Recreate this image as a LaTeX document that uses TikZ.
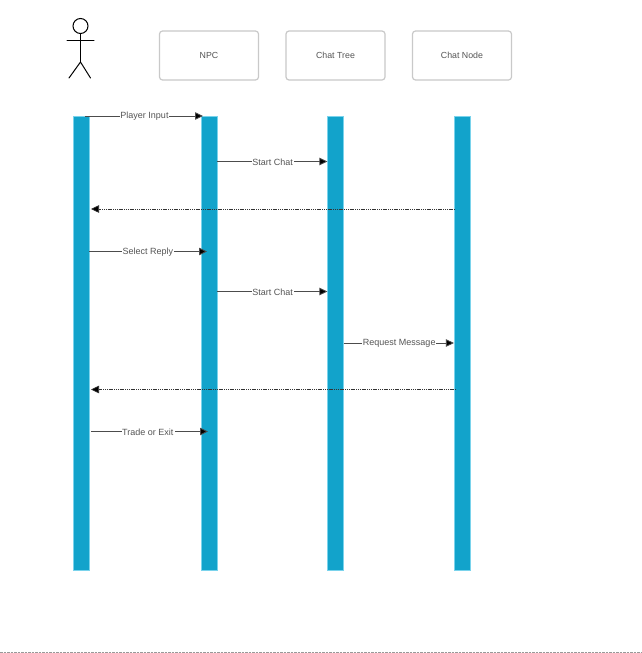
\documentclass[tikz,border=0pt]{standalone}
\usepackage{fontspec}
\setmainfont{Liberation Sans}
\usetikzlibrary{arrows.meta}
\definecolor{barblue}{HTML}{12A3CB}
\definecolor{baredge}{HTML}{7AD3EC}
\definecolor{boxedge}{HTML}{C9C9C9}
\definecolor{txt}{HTML}{555555}
\tikzset{
  x=1pt,y=-1pt,
  lifebar/.style={draw=baredge,line width=0.4pt,fill=barblue,minimum width=16.2pt,minimum height=454pt,inner sep=0pt,outer sep=0pt},
  headbox/.style={draw=boxedge,line width=1.2pt,rounded corners=3pt,fill=white,minimum width=99pt,minimum height=49pt,inner sep=0pt,font=\fontsize{8.8}{10}\selectfont,text=txt},
  msg/.style={draw=black!70,line width=0.8pt,-{Triangle[length=8pt,width=7.5pt,fill=black]}},
  reply/.style={draw=black!80,line width=0.6pt,dash pattern=on 1.4pt off 0.8pt,-{Triangle[length=8pt,width=7.5pt,fill=black]}},
  lbl/.style={fill=white,inner xsep=0.6pt,inner ysep=0.5pt,yshift=-0.4pt,font=\fontsize{9}{10}\selectfont,text=txt},
  stick/.style={draw=black,line width=1pt,line cap=round}
}
\begin{document}
\begin{tikzpicture}
\useasboundingbox (0,0) rectangle (642,653);
\fill[white] (0,0) rectangle (642,653);
% headers
\node[headbox] (npc) at (209,55.5) {NPC};
\node[headbox] (tree) at (335.5,55.5) {Chat Tree};
\node[headbox] (chatnode) at (462,55.5) {Chat Node};
% lifelines
\node[lifebar] (b1) at (80.8,343) {};
\node[lifebar] (b2) at (208.8,343) {};
\node[lifebar] (b3) at (335.5,343) {};
\node[lifebar] (b4) at (462,343) {};
% actor
\node[circle,stick,minimum size=15pt,inner sep=0pt] (head) at (80.5,26) {};
\coordinate (hip) at (80.5,62);
\coordinate (armL) at (67,40);
\coordinate (armR) at (94,40);
\coordinate (legL) at (69,78);
\coordinate (legR) at (90.5,78);
\draw[stick] (head.south) -- (hip);
\draw[stick] (armL) -- (armR);
\draw[stick] (legL) -- (hip) -- (legR);
% messages
\coordinate (m1s) at (85,116);
\coordinate (m1e) at (203,116);
\draw[msg] (m1s) -- node[lbl,pos=0.5,xshift=0.5pt] {Player Input} (m1e);
\draw[msg] (b2.east |- 0,161.5) -- node[lbl,xshift=0.5pt] {Start Chat} (b3.west |- 0,161.5);
\coordinate (d1s) at (455,209);
\draw[reply] (d1s) -- (91,209);
\coordinate (m3e) at (207,251.5);
\draw[msg] (b1.east |- 0,251.5) -- node[lbl] {Select Reply} (m3e);
\draw[msg] (b2.east |- 0,291.5) -- node[lbl,xshift=0.5pt] {Start Chat} (b3.west |- 0,291.5);
\draw[msg] (b3.east |- 0,343) -- node[lbl,xshift=0.5pt] {Request Message} (b4.west |- 0,343);
\coordinate (d2s) at (456,389.5);
\draw[reply] (d2s) -- (91,389.5);
\coordinate (m6s) at (91,431.5);
\coordinate (m6e) at (208,431.5);
\draw[msg] (m6s) -- node[lbl,xshift=-1pt] {Trade or Exit\,} (m6e);
% bottom edge
\draw[black!40,line width=1pt,dash pattern=on 2.5pt off 1pt] (0,652.3) -- (642,652.3);
\end{tikzpicture}
\end{document}
